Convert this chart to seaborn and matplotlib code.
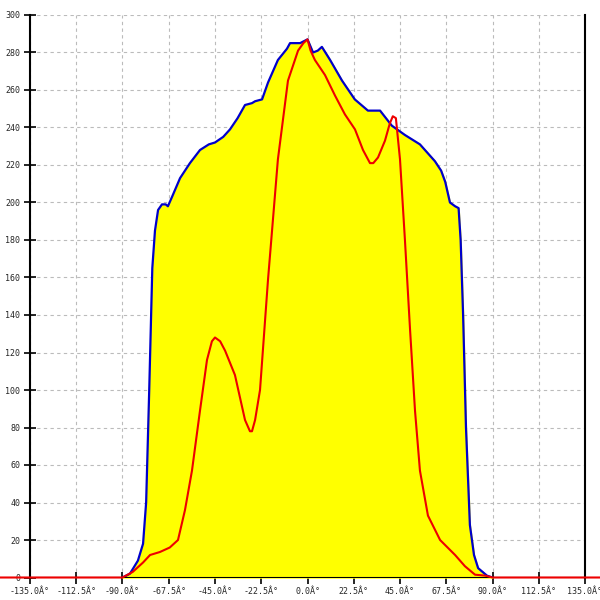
import matplotlib
matplotlib.use("Agg")
import matplotlib.pyplot as plt
import seaborn as sns
import pandas as pd

# 蓝色包络 (黄色填充)
blue_x = [-90, -86.4, -82.5, -80, -78.5, -77, -75.5, -74.2, -72.7, -70.8, -69, -67.9,
          -65.9, -62, -57.2, -52.3, -48, -45, -41, -37.7, -34, -30.4, -27, -25.5, -22.1,
          -19.2, -14.4, -10, -8.5, -3.6, 0, 2.7, 5, 7, 11, 16.8, 23, 29.4, 35.3, 41,
          47.4, 54.7, 62, 65, 67, 69.3, 71.8, 73.5, 74.5, 75.7, 77.1, 79, 81, 83, 87.3, 90]
blue_y = [0, 2, 9, 18, 40, 100, 165, 185, 196, 199, 199, 198,
          203, 213, 221, 228, 231, 232, 235, 239, 245, 252, 253, 254, 255,
          264, 276, 282, 285, 285, 287, 280, 281, 283, 276, 265, 255, 249, 249, 241,
          236, 231, 222, 217, 211, 200, 198, 197, 180, 140, 80, 28, 12, 5, 1, 0]

# 红色曲线
red_x = [-150, -90, -85, -80, -76.6, -71.8, -67, -63, -59.6, -56.2, -52.3, -48.9, -46.5,
         -45, -42.5, -40.1, -35.3, -30.4, -28, -27, -25.5, -23.1, -19.2, -14.4, -9.5,
         -4.6, -2, 0, 1.5, 3.6, 8.5, 13.4, 18.2, 23.1, 27, 30.4, 32, 34.3, 37.7, 40,
         41.5, 43, 45, 47.4, 49.9, 52.3, 54.7, 58.6, 64.5, 71.8, 76.6, 81.5, 86.4, 90, 150]
red_y = [0, 0, 3, 8, 12, 13.6, 16, 20, 36, 57, 89, 116, 126,
         128, 126, 121, 108, 84, 78, 78, 84, 100, 159, 223, 265,
         281, 285, 287, 281, 276, 268, 257, 247, 239, 228, 221, 221, 224, 233, 242,
         246, 245, 223, 180, 132, 89, 57, 33, 20, 12, 6, 1.5, 1, 0, 0]

x_ticks = [-135 + 22.5 * i for i in range(13)]
x_labels = [f"{v:.1f}Â°" for v in x_ticks]
y_ticks = list(range(0, 301, 20))

sns.set_style("white")
plt.rcParams['font.family'] = ['DejaVu Sans Mono']

fig = plt.figure(figsize=(6, 6), dpi=100)
ax = fig.add_axes([0.05, 0.0375, 0.925, 0.9375])

df_blue = pd.DataFrame({"x": blue_x, "y": blue_y})
df_red = pd.DataFrame({"x": red_x, "y": red_y})

ax.fill_between(df_blue["x"], df_blue["y"], color="#ffff00", zorder=2)
sns.lineplot(data=df_blue, x="x", y="y", ax=ax, color="#0000cc", linewidth=1.6,
             sort=False, estimator=None, zorder=3)
ax.axhline(0, color="black", linewidth=1.5, zorder=3)
sns.lineplot(data=df_red, x="x", y="y", ax=ax, color="#ee0000", linewidth=1.5,
             sort=False, estimator=None, zorder=4)
ax.lines[-1].set_clip_on(False)

ax.set_xlim(-135, 135)
ax.set_ylim(0, 300)
ax.set_xticks(x_ticks)
ax.set_xticklabels(x_labels)
ax.set_yticks(y_ticks)
ax.set_xlabel("")
ax.set_ylabel("")
ax.grid(True, color="#bbbbbb", linestyle=(0, (3, 3)), linewidth=0.8, zorder=1)
ax.set_axisbelow(True)

for side in ["left", "right"]:
    ax.spines[side].set_visible(True)
    ax.spines[side].set_color("black")
    ax.spines[side].set_linewidth(1.5)
ax.spines["top"].set_visible(False)
ax.spines["bottom"].set_visible(False)

ax.tick_params(axis="both", direction="inout", length=8, width=1.2, color="black",
               labelsize=6, pad=3, left=True, bottom=True)

fig.savefig("out.png", dpi=100)
